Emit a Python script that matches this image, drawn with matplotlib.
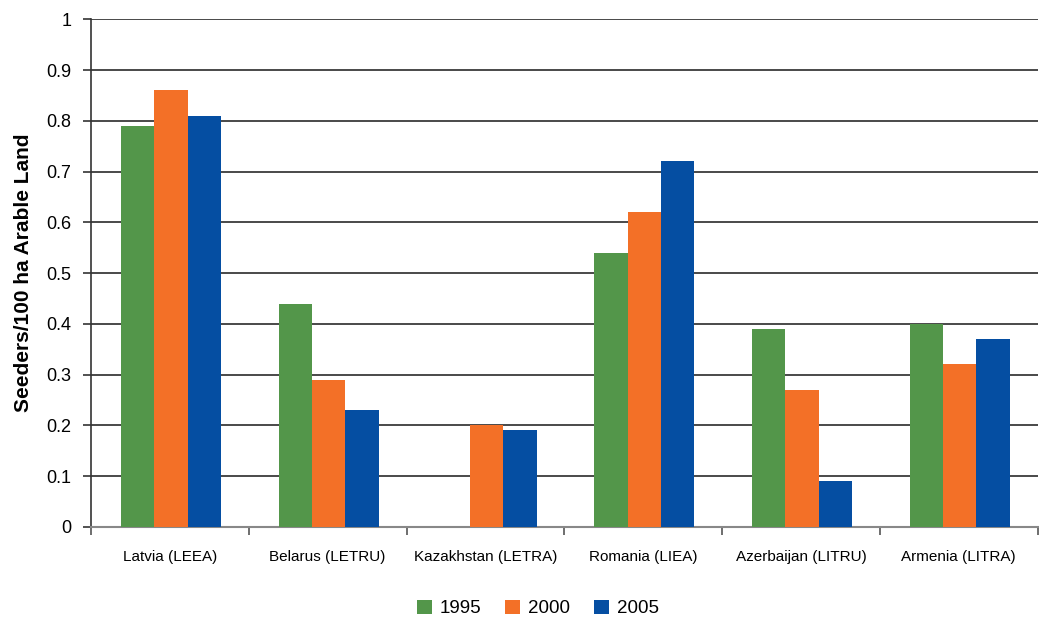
import matplotlib
matplotlib.use('Agg')
import matplotlib.pyplot as plt
import numpy as np

plt.rcParams['font.family'] = ['Liberation Sans', 'DejaVu Sans']

countries = ['Latvia (LEEA)', 'Belarus (LETRU)', 'Kazakhstan (LETRA)',
             'Romania (LIEA)', 'Azerbaijan (LITRU)', 'Armenia (LITRA)']
years = ['1995', '2000', '2005']
v1995 = [0.79, 0.44, 0.0, 0.54, 0.39, 0.40]
v2000 = [0.86, 0.29, 0.20, 0.62, 0.27, 0.32]
v2005 = [0.81, 0.23, 0.19, 0.72, 0.09, 0.37]
colors = ['#53964A', '#F37027', '#054EA2']

fig = plt.figure(figsize=(10.39, 6.22), dpi=100)
ax = fig.add_axes([0.0876, 0.153, 0.911, 0.816])

x = np.arange(len(countries))
w = 0.212
for i, (vals, c, lab) in enumerate(zip([v1995, v2000, v2005], colors, years)):
    ax.bar(x + (i - 1) * w + 0.007, vals, width=w, color=c, label=lab, zorder=3)

ax.set_xlim(-0.5, len(countries) - 0.5)
ax.set_ylim(0, 1)
ax.set_yticks(np.arange(0, 1.01, 0.1))
ax.set_yticklabels(['0', '0.1', '0.2', '0.3', '0.4', '0.5', '0.6', '0.7', '0.8', '0.9', '1'])
ax.yaxis.grid(True, color='#3a3a3a', linewidth=1.3, zorder=0)
ax.set_axisbelow(True)

ax.set_xticks(x)
ax.set_xticklabels(countries, fontsize=11)
ax.tick_params(axis='x', length=0, pad=17)
ax.set_xticks(np.arange(-0.5, len(countries)), minor=True)
ax.tick_params(axis='x', which='minor', length=6, color='#555555', width=1.2)
ax.tick_params(axis='y', labelsize=13, length=6, color='#333333', width=1.2, pad=8)

for s in ['top', 'right']:
    ax.spines[s].set_visible(False)
ax.spines['left'].set_color('#333333')
ax.spines['left'].set_linewidth(1.2)
ax.spines['bottom'].set_color('#888888')
ax.spines['bottom'].set_linewidth(1.5)

ax.set_ylabel('Seeders/100 ha Arable Land', fontsize=15, fontweight='bold', labelpad=10)

ax.legend(loc='upper center', bbox_to_anchor=(0.472, -0.11), ncol=3, frameon=False,
          fontsize=13.5, handlelength=0.8, handleheight=0.8, columnspacing=1.3, handletextpad=0.4)

fig.savefig('out.png', dpi=100)
